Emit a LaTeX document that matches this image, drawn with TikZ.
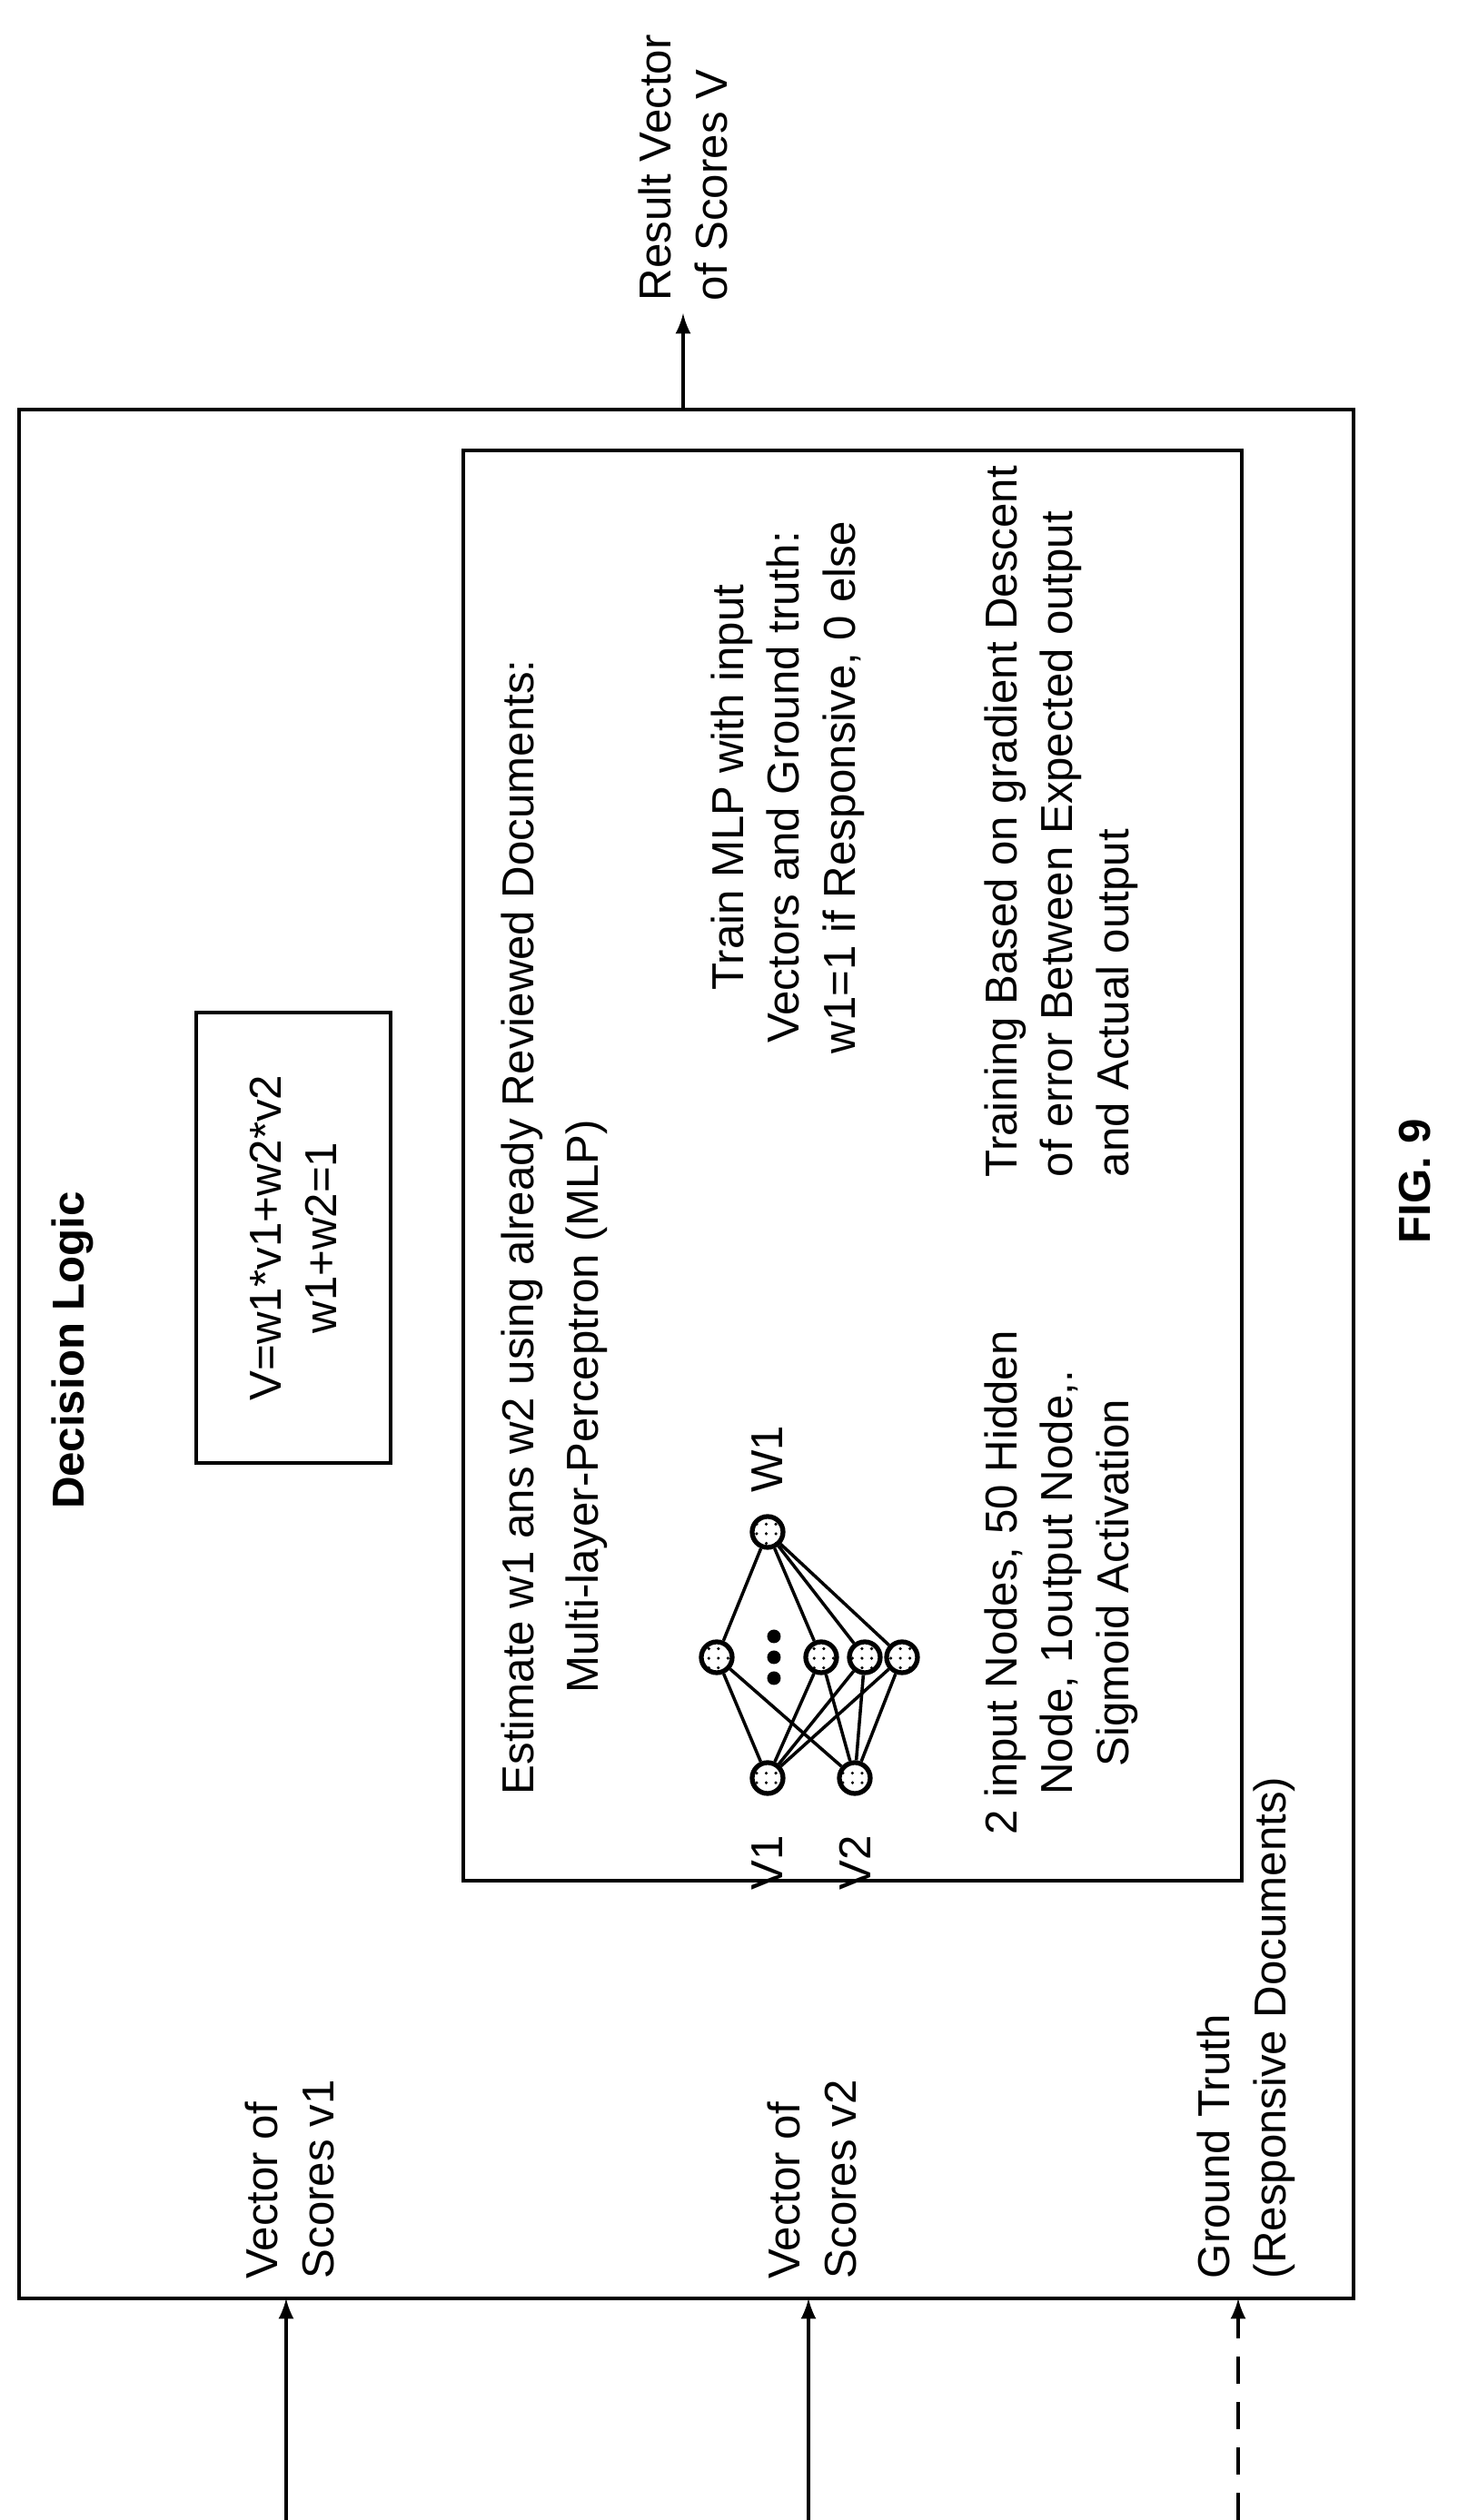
\documentclass[tikz,border=0pt]{standalone}
\usepackage{fontspec}
\setmainfont{Liberation Sans}
\usetikzlibrary{positioning,patterns}
\tikzset{
  lbl/.style={align=left, font=\fontsize{14}{17.5}\selectfont},
  neuron/.style={circle, draw, line width=1.5pt, minimum size=0.34cm, inner sep=0pt, pattern=dots},
  conn/.style={line width=1pt},
}
\begin{document}
\begin{tikzpicture}[rotate=90, transform shape, x=1cm, y=1cm, line width=1.2pt]
  \useasboundingbox (0,0) rectangle (27.75,16.04);
  % boxes
  \draw (2.44,1.14) rectangle (23.24,15.83);
  \draw (7.04,2.37) rectangle (22.79,10.94);
  \node[draw, minimum width=4.96cm, minimum height=2.14cm, lbl, align=center] (formula) at (14.12,12.81) {V=w1*v1+w2*v2\\w1+w2=1};
  \node[lbl, font=\fontsize{14}{17.5}\bfseries] (title) at (12.88,15.24) {Decision Logic};
  \node[font=\fontsize{14}{17.5}\bfseries] (fig) at (14.74,0.46) {FIG. 9};
  % inputs
  \coordinate (in1) at (0,12.89);
  \coordinate (in2) at (0,7.14);
  \coordinate (in3) at (0,2.41);
  \coordinate (e1) at (2.44,12.89);
  \coordinate (e2) at (2.44,7.14);
  \coordinate (e3) at (2.44,2.41);
  \draw[-latex] (in1) -- (e1);
  \draw[-latex] (in2) -- (e2);
  \draw[-latex, dashed, dash pattern=on 0.3cm off 0.2cm] (in3) -- (e3);
  \node[lbl, anchor=west] (v1) at (2.52,12.85) {Vector of\\Scores v1};
  \node[lbl, anchor=west] (v2) at (2.52,7.10) {Vector of\\Scores v2};
  \node[lbl, anchor=west] (gt) at (2.52,2.32) {Ground Truth\\(Responsive Documents)};
  % output
  \coordinate (out) at (24.30,8.52);
  \draw[-latex] (23.24,8.52) -- (out);
  \node[lbl, anchor=west] (res) at (out) {Result Vector\\of Scores V};
  % inner texts
  \node[lbl, anchor=west] (est) at (7.85,10.29) {Estimate w1 ans w2 using already Reviewed Documents:};
  \node[lbl] (mlp) at (12.26,9.58) {Multi-layer-Perceptron (MLP)};
  \node[lbl, align=center] (train) at (19.08,7.37) {Train MLP with input\\Vectors and Ground truth:\\w1=1 if Responsive, 0 else};
  \node[lbl, anchor=west] (grad) at (14.65,4.36) {Training Based on gradient Descent\\of error Between Expected output\\and Actual output};
  \node[lbl, align=center] (arch) at (10.32,4.36) {2 input Nodes, 50 Hidden\\Node, 1output Node,.\\Sigmoid Activation};
  % network
  \node[neuron] (o) at (10.88,7.59) {};
  \node[neuron] (h1) at (9.50,8.15) {};
  \node[neuron] (h2) at (9.50,7.00) {};
  \node[neuron] (h3) at (9.50,6.52) {};
  \node[neuron] (h4) at (9.50,6.11) {};
  \node[neuron] (i1) at (8.17,7.59) {};
  \node[neuron] (i2) at (8.17,6.63) {};
  \foreach \h in {h1,h2,h3,h4} {
    \draw[conn] (o) -- (\h);
    \draw[conn] (i1) -- (\h);
    \draw[conn] (i2) -- (\h);
  }
  \foreach \d in {9.27,9.50,9.73} \fill (\d,7.52) circle (0.075);
  \node[lbl, left=0.3cm of i1] (lv1) {V1};
  \node[lbl, left=0.3cm of i2] (lv2) {V2};
  \node[lbl, right=0.1cm of o] (lw1) {W1};
\end{tikzpicture}
\end{document}
